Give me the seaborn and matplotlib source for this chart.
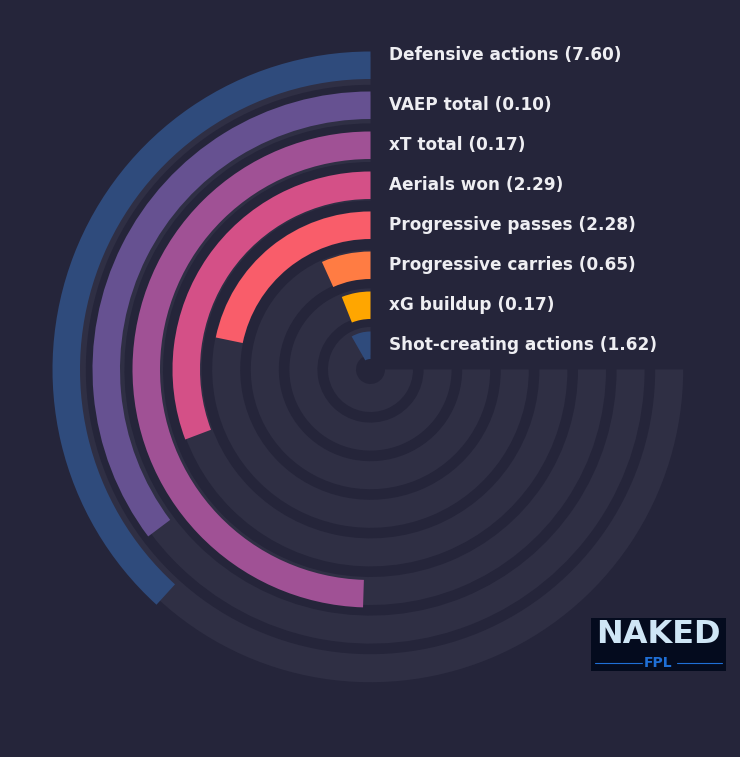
import numpy as np
import matplotlib.pyplot as plt
import seaborn as sns

# metrics, top (outer ring) to bottom (inner ring)
labels = ['Defensive actions', 'VAEP total', 'xT total', 'Aerials won',
          'Progressive passes', 'Progressive carries', 'xG buildup', 'Shot-creating actions']
values = [7.60, 0.10, 0.17, 2.29, 2.28, 0.65, 0.17, 1.62]
percentiles = [51, 47, 66, 41, 29, 9, 8, 11]

colors = ['#2f4b7c', '#665191', '#a05195', '#d45087',
          '#f95d6a', '#ff7c43', '#ffa600', '#2f4b7c']

BG = '#25253a'
TRACK = '#2f2f44'
TXT = '#eeeef2'

sns.set_style('dark', {'axes.facecolor': BG, 'figure.facecolor': BG})
plt.rcParams['font.family'] = ['DejaVu Sans']

W, H = 740, 757
fig = plt.figure(figsize=(W / 100, H / 100), dpi=100)
fig.patch.set_facecolor(BG)

# polar axes, radius in pixels
R = 320
cx, cy = 370.5, H - 369.5
ax = fig.add_axes([(cx - R) / W, (cy - R) / H, 2 * R / W, 2 * R / H], projection='polar')
ax.set_theta_offset(np.pi / 2)
ax.set_theta_direction(1)
ax.set_ylim(0, R)
ax.set_axis_off()

n = len(labels)
span = 1.5 * np.pi

# background tracks
for i in range(n):
    ax.bar(0, 28, width=span, bottom=14.5 + 38.6 * i, align='edge',
           color=TRACK, linewidth=0, zorder=1)

# value bars (ring 0 = innermost)
for k in range(n):
    i = n - 1 - k
    bottom = 10.5 + 40 * i
    ax.bar(0, 27.5, width=percentiles[k] / 100 * span, bottom=bottom, align='edge',
           color=colors[k], linewidth=0, zorder=2)
    dy = 10 if k == 0 else 0
    ax.annotate(f'{labels[k]} ({values[k]:.2f})', xy=(0, bottom + 13.75),
                xytext=(18.5, dy), textcoords='offset pixels',
                ha='left', va='center', fontsize=12.2, fontweight='bold',
                color=TXT, annotation_clip=False, zorder=3)

# logo
lax = fig.add_axes([591 / W, (H - 671) / H, 135 / W, 53 / H])
lax.set_facecolor('#040b1e')
lax.set_xlim(0, 1)
lax.set_ylim(0, 1)
lax.set_xticks([])
lax.set_yticks([])
for s in lax.spines.values():
    s.set_visible(False)
lax.text(0.5, 0.69, 'NAKED', ha='center', va='center', fontsize=23,
         fontweight='bold', color='#cfe6f6')
lax.text(0.5, 0.15, 'FPL', ha='center', va='center', fontsize=10,
         fontweight='bold', color='#1f6fd6')
lax.plot([0.03, 0.38], [0.15, 0.15], color='#1f6fd6', lw=0.8)
lax.plot([0.64, 0.97], [0.15, 0.15], color='#1f6fd6', lw=0.8)

fig.savefig('out.png', dpi=100, facecolor=BG)
